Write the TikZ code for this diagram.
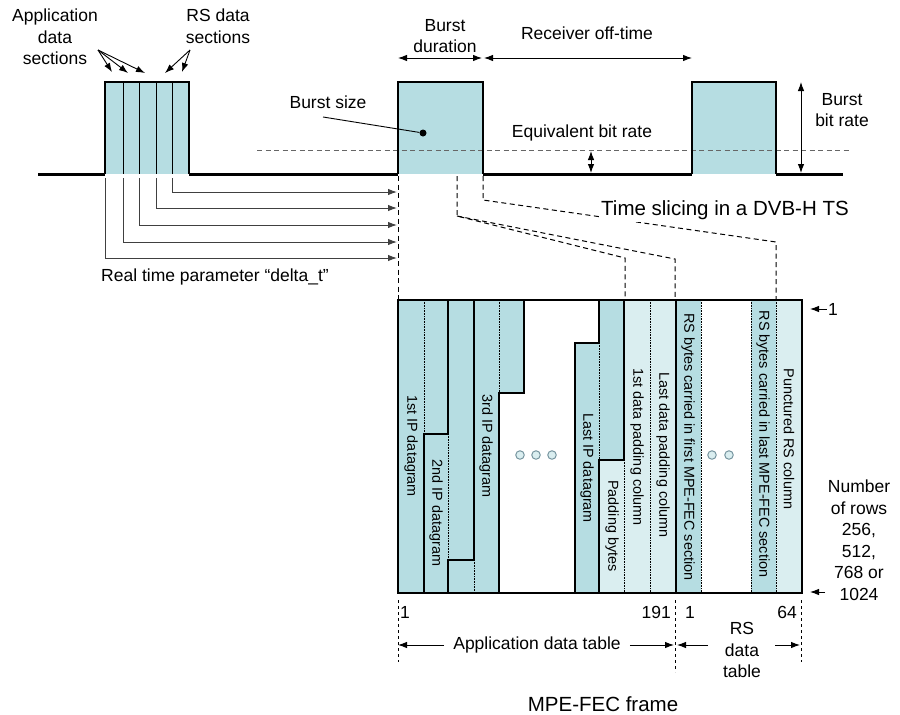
\documentclass[tikz,border=0pt]{standalone}
\usepackage{fontspec}
\setmainfont{Liberation Sans}
\usepackage{tikz}
\usetikzlibrary{arrows.meta}
\definecolor{burstblue}{RGB}{182,221,226}
\definecolor{padblue}{RGB}{218,238,240}
\definecolor{ringgray}{RGB}{120,150,160}
\newcommand{\txtnormal}{\fontsize{17.5}{21.5}\selectfont}
\newcommand{\txtsmall}{\fontsize{14.4}{17}\selectfont}
\newcommand{\txtbig}{\fontsize{20.5}{24}\selectfont}

\begin{document}
\begin{tikzpicture}[x=1pt, y=-1pt, >={Latex[length=9pt,width=6.5pt]}, font=\txtnormal,
    lbl/.style={align=center, inner sep=1pt},
    coltext/.style={rotate=-90, font=\txtsmall, inner sep=0pt},
    sig/.style={line width=2pt},
    base/.style={line width=3pt},
    box/.style={line width=1.8pt},
    dots/.style={dash pattern=on 0.8pt off 0.8pt, line width=0.6pt},
    hint/.style={dash pattern=on 5pt off 3.5pt, line width=1pt},
    ring/.style={circle, draw=ringgray, line width=1pt, fill=padblue, minimum size=8.5pt, inner sep=0pt}]
    %Bildbereich
    \useasboundingbox (0,0) rectangle (900,715);
    % Bursts fuellen
    \fill[burstblue] (105,82) rectangle (189,174);
    \fill[burstblue] (398,82) rectangle (483,174);
    \fill[burstblue] (692,82) rectangle (776,174);
    % Equivalent bit rate
    \draw[black!60, dash pattern=on 5pt off 3.5pt, line width=1pt] (257,150) -- (850,150);
    % Sektionen im ersten Burst
    \foreach \x in {123,139,156,172} \draw[line width=0.9pt] (\x,82) -- (\x,174);
    % Signal zeichnen
    \draw[sig] (105,174) -- (105,82) -- (189,82) -- (189,174);
    \draw[sig] (398,174) -- (398,82) -- (483,82) -- (483,174);
    \draw[sig] (692,174) -- (692,82) -- (776,82) -- (776,174);
    \draw[base] (38,174) -- (105,174) (189,174) -- (398,174) (483,174) -- (692,174) (776,174) -- (843,174);
    % Beschriftung oben
    \node[lbl] (appsec) at (55,37) {Application\\data\\sections};
    \node[lbl] (rssec) at (218,26) {RS data\\sections};
    \coordinate (appfrom) at (98,50);
    \coordinate (rsfrom) at (190,50);
    \foreach \x/\y [count=\i] in {112/72,128/73,145/73} {
        \coordinate (as\i) at (\x,\y);
        \draw[->, line width=0.9pt] (appfrom) -- (as\i);
    }
    \foreach \x/\y [count=\i] in {165/73,182/72} {
        \coordinate (rs\i) at (\x,\y);
        \draw[->, line width=0.9pt] (rsfrom) -- (rs\i);
    }
    \node[lbl] (bdur) at (445,36) {Burst\\duration};
    \node[lbl] (roff) at (587,33) {Receiver off-time};
    \coordinate (b2l) at (398,58);
    \coordinate (b2r) at (482,58);
    \coordinate (b2s) at (484,58);
    \coordinate (b3l) at (692,58);
    \draw[<->, line width=0.9pt] (b2l) -- (b2r);
    \draw[<->, line width=0.9pt] (b2s) -- (b3l);
    % Burst size
    \node[circle, fill, inner sep=0pt, minimum size=7pt] (bsdot) at (423,133) {};
    \node[lbl] (bsize) at (328,102) {Burst size};
    \coordinate (bsfrom) at (323,117);
    \draw[line width=0.9pt] (bsfrom) -- (bsdot);
    % Bitraten
    \node[lbl] (eqrate) at (582,133) {Equivalent bit rate};
    \coordinate (eqtop) at (591,151);
    \coordinate (eqbot) at (591,173);
    \draw[<->, line width=0.9pt] (eqtop) -- (eqbot);
    \node[lbl] (brate) at (842,110) {Burst\\bit rate};
    \coordinate (brtop) at (801,82);
    \coordinate (brbot) at (801,173);
    \draw[<->, line width=0.9pt] (brtop) -- (brbot);
    % delta_t Pfeile
    \foreach \x/\y [count=\i] in {105/258,123/242,139/225,156/208,172/192} {
        \coordinate (ds\i) at (\x,178);
        \coordinate (de\i) at (397,\y);
        \draw[->, line width=1pt, black!75] (ds\i) |- (de\i);
    }
    \node[lbl] (delta) at (215,277) {Real time parameter “delta\_t”};
    % Gestrichelte Verbindungen zum Rahmen
    \draw[hint] (398,176) -- (398,300);
    \draw[hint] (457,176) -- (457,216) -- (625,258) -- (625,300);
    \draw[hint] (457,216) -- (675,259) -- (675,300);
    \draw[hint] (483,176) -- (483,200) -- (776,242) -- (776,300);
    \node[fill=white, inner sep=2pt, font=\txtbig] (tslice) at (725,210) {Time slicing in a DVB-H TS};
    % MPE-FEC Rahmen fuellen
    \fill[burstblue] (398,300) -- (524,300) -- (524,393) -- (499,393) -- (499,593) -- (398,593) -- cycle;
    \fill[burstblue] (575,343) -- (599,343) -- (599,300) -- (624,300) -- (624,460) -- (599,460) -- (599,593) -- (575,593) -- cycle;
    \fill[padblue] (599,460) -- (624,460) -- (624,300) -- (676,300) -- (676,593) -- (599,593) -- cycle;
    \fill[burstblue] (676,300) rectangle (701,593);
    \fill[burstblue] (751,300) rectangle (776,593);
    \fill[padblue] (776,300) rectangle (802,593);
    % Spalten (gepunktet)
    \foreach \x/\a/\b in {424/300/434, 448/434/560, 474/560/593, 499/300/393, 599/343/460,
        624/460/593, 650/300/593, 701/300/593, 751/300/593, 776/300/593}
        \draw[dots] (\x,\a) -- (\x,\b);
    % Grenzen der Datagramme
    \draw[box] (424,593) -- (424,434) -- (448,434) -- (448,300);
    \draw[box] (448,593) -- (448,560) -- (474,560) -- (474,300);
    \draw[box] (499,593) -- (499,393) -- (524,393) -- (524,300);
    \draw[box] (575,593) -- (575,343) -- (599,343) -- (599,300);
    \draw[box] (599,593) -- (599,460) -- (624,460) -- (624,300);
    \draw[box] (676,300) -- (676,593);
    \draw[box] (398,300) rectangle (802,593);
    % Spaltenbeschriftung
    \node[coltext] (ip1) at (411,446) {1st IP datagram};
    \node[coltext] (ip2) at (436,513) {2nd IP datagram};
    \node[coltext] (ip3) at (486,446) {3rd IP datagram};
    \node[coltext] (iplast) at (587,468) {Last IP datagram};
    \node[coltext] (padb) at (612,526) {Padding bytes};
    \node[coltext] (pad1) at (637,447) {1st data padding column};
    \node[coltext] (padl) at (663,455) {Last data padding column};
    \node[coltext] (rsf) at (688,447) {RS bytes carried in first MPE-FEC section};
    \node[coltext] (rsl) at (763,444) {RS bytes carried in last MPE-FEC section};
    \node[coltext] (punct) at (789,439) {Punctured RS column};
    \foreach \x [count=\i] in {520,536,552} \node[ring] (ad\i) at (\x,455) {};
    \foreach \x [count=\i] in {712,729} \node[ring] (rd\i) at (\x,455) {};
    % Zeilen rechts
    \node[lbl] (one) at (833,309) {1};
    \coordinate (rowtop) at (810,309);
    \draw[->, line width=0.9pt] (one.west) -- (rowtop);
    \node[lbl] (rows) at (859,540) {Number\\of rows\\256,\\512,\\768 or\\1024};
    \coordinate (rowbot) at (810,592);
    \coordinate (rowfrom) at (825,592);
    \draw[->, line width=0.9pt] (rowfrom) -- (rowbot);
    % Spaltennummern
    \node[lbl] (c1) at (405,612) {1};
    \node[lbl, anchor=east] (c191) at (672,612) {191};
    \node[lbl] (r1) at (690,612) {1};
    \node[lbl, anchor=east] (r64) at (798,612) {64};
    \draw[dash pattern=on 3pt off 3pt, line width=0.8pt] (398,600) -- (398,662);
    \draw[dash pattern=on 3pt off 3pt, line width=0.8pt] (675,600) -- (675,672);
    \draw[dash pattern=on 3pt off 3pt, line width=0.8pt] (801,600) -- (801,662);
    % Tabellen
    \node[lbl] (apptab) at (537,645) {Application data table};
    \coordinate (atl) at (398,645);
    \coordinate (atr) at (674,645);
    \draw[->, line width=0.9pt] (apptab.west) ++(-8,0) -- (atl);
    \draw[->, line width=0.9pt] (apptab.east) ++(8,0) -- (atr);
    \node[lbl] (rstab) at (742,650) {RS\\data\\table};
    \coordinate (rtl) at (677,645);
    \coordinate (rtr) at (800,645);
    \draw[->, line width=0.9pt] (708,645) -- (rtl);
    \draw[->, line width=0.9pt] (775,645) -- (rtr);
    \node[font=\txtbig] (frame) at (603,704) {MPE-FEC frame};
\end{tikzpicture}
\end{document}
